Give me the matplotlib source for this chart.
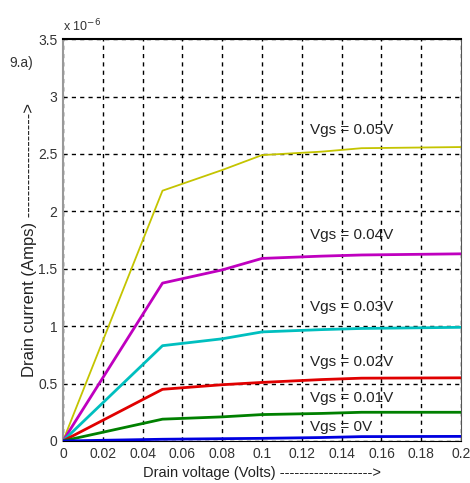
# Drain current vs drain voltage for several gate voltages
import numpy as np
import matplotlib
matplotlib.use("Agg")
import matplotlib.pyplot as plt

plt.rcParams['font.family'] = ['Liberation Sans', 'DejaVu Sans']

# drain voltage (V) and drain current (x 1e-6 A)
vds = [0, 0.05, 0.08, 0.1, 0.13, 0.15, 0.2]
id_005 = [0, 2.18, 2.36, 2.49, 2.52, 2.55, 2.56]
id_004 = [0, 1.375, 1.49, 1.59, 1.61, 1.62, 1.63]
id_003 = [0, 0.83, 0.89, 0.95, 0.97, 0.98, 0.99]
id_002 = [0, 0.45, 0.49, 0.51, 0.535, 0.547, 0.55]
id_001 = [0, 0.19, 0.21, 0.23, 0.24, 0.25, 0.25]
id_000 = [0, 0.015, 0.02, 0.023, 0.03, 0.038, 0.04]

labels = ['Vgs = 0.05V', 'Vgs = 0.04V', 'Vgs = 0.03V', 'Vgs = 0.02V', 'Vgs = 0.01V', 'Vgs = 0V']
label_y = [2.71, 1.79, 1.17, 0.69, 0.37, 0.12]
colors = ['#c4c400', '#bf00bf', '#00bfbf', '#e00000', '#008000', '#0000e0']
widths = [1.3, 2, 2, 2, 2, 2]

xticks = [0, 0.02, 0.04, 0.06, 0.08, 0.1, 0.12, 0.14, 0.16, 0.18, 0.2]
xticklabels = ['0', '0.02', '0.04', '0.06', '0.08', '0.1', '0.12', '0.14', '0.16', '0.18', '0.2']
yticks = [0, 0.5, 1, 1.5, 2, 2.5, 3, 3.5]
yticklabels = ['0', '0.5', '1', '1.5', '2', '2.5', '3', '3.5']

fig = plt.figure(figsize=(4.7, 4.83), dpi=100)
ax = fig.add_axes([0.134, 0.087, 0.847, 0.832])

series = [id_005, id_004, id_003, id_002, id_001, id_000]
for s, c, w in zip(series, colors, widths):
    ax.plot(vds, s, color=c, lw=w, zorder=3)

for lab, ly in zip(labels, label_y):
    ax.text(0.124, ly, lab, fontsize=11, color='#222222', va='center', ha='left')

ax.set_xlim(0, 0.2)
ax.set_ylim(0, 3.5)
ax.set_xticks(xticks)
ax.set_xticklabels(xticklabels)
ax.set_yticks(yticks)
ax.set_yticklabels(yticklabels)
ax.tick_params(labelsize=10, length=0, pad=4, colors='#333333')
ax.grid(True, color='black', linestyle=(0, (3, 3)), linewidth=1.0)

ax.spines['left'].set_color('#999999')
ax.spines['left'].set_linewidth(1.5)
ax.spines['top'].set_linewidth(1.5)
ax.spines['right'].set_color('#555555')

ax.set_xlabel('Drain voltage (Volts) ------------------->', fontsize=10.5, color='#222222', labelpad=4)
ax.set_ylabel('Drain current (Amps) ------------------->', fontsize=12, color='#222222', labelpad=1)

fig.text(0.134, 0.935, r'x 10$^{-6}$', fontsize=9, color='#333333')
fig.text(0.02, 0.87, '9.a)', fontsize=10, color='#333333', va='center')

fig.savefig('out.png', dpi=100)
